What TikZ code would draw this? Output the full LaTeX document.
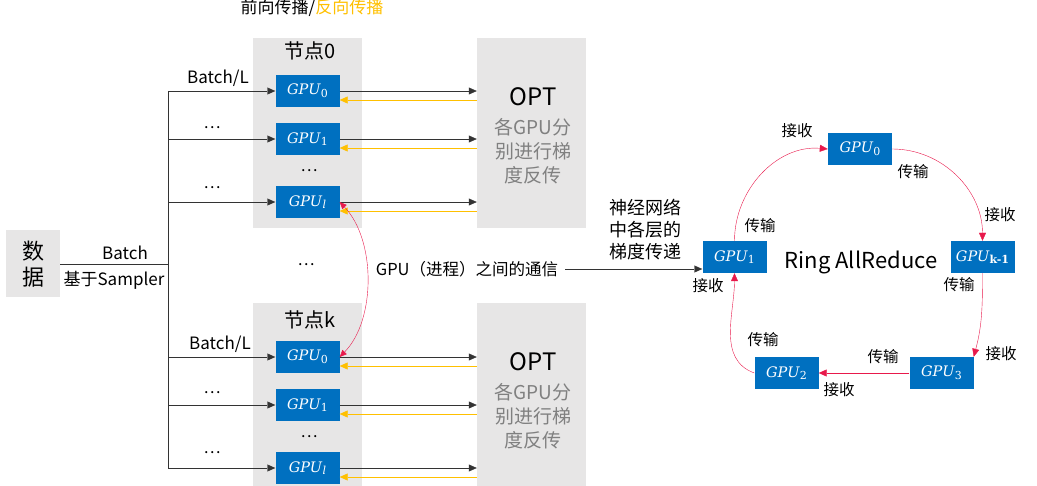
\documentclass[tikz,border=0pt]{standalone}
\usepackage{fontspec}
\newfontfamily\cjk{Noto Sans CJK SC}
\newfontfamily\gpufont{DejaVu Serif}
\usetikzlibrary{arrows.meta}
\definecolor{gpublue}{HTML}{0070C0}
\definecolor{boxgray}{HTML}{E7E6E6}
\definecolor{backyellow}{HTML}{FFC000}
\definecolor{ringred}{HTML}{E8194B}
\definecolor{optgray}{HTML}{808080}
\newcommand\gpuname[1]{\textit{GPU}\raisebox{-0.35ex}{\fontsize{11}{12}\selectfont #1}}
\tikzset{
  gpu/.style={fill=gpublue, text=white, minimum width=64pt, minimum height=32pt,
    inner sep=0pt, font=\gpufont\fontsize{14.5}{16}\selectfont},
  graybox/.style={fill=boxgray, inner sep=0pt},
  txt/.style={font=\cjk\fontsize{17}{19}\selectfont, inner sep=1pt},
  small/.style={font=\cjk\fontsize{15.5}{17}\selectfont, inner sep=1pt},
  dots/.style={font=\cjk\fontsize{16}{18}\selectfont, inner sep=1pt},
  fwd/.style={draw=black!80, -{Triangle[length=8pt,width=7pt]}},
  bwd/.style={draw=backyellow, -{Triangle[length=8pt,width=7pt]}},
  ring/.style={draw=ringred, -{Triangle[length=8pt,width=7pt]}},
}
\begin{document}
\begin{tikzpicture}[x=1pt, y=-1pt]
  \useasboundingbox (0,0) rectangle (1037,486);

  % Data and nodes
  \node[graybox, minimum width=54, minimum height=67, align=center,
    font=\cjk\fontsize{22}{26}\selectfont] (data) at (33,264) {数\\据};
  \node[graybox, minimum width=109, minimum height=190] (node0) at (307.5,133) {};
  \node[graybox, minimum width=109, minimum height=184] (nodek) at (307.5,395) {};
  \node[graybox, minimum width=109, minimum height=190] (opt0) at (531.5,133) {};
  \node[graybox, minimum width=109, minimum height=184] (optk) at (531.5,395) {};

  \node[txt] at (312,8) {前向传播/\textcolor{backyellow}{反向传播}};
  \node[txt, font=\cjk\fontsize{20}{22}\selectfont] at (310,51) {节点0};
  \node[txt, font=\cjk\fontsize{20}{22}\selectfont] at (310,320) {节点k};

  \node[font=\cjk\fontsize{24}{26}\selectfont] at (533,97) {OPT};
  \node[font=\cjk\fontsize{19}{24}\selectfont, text=optgray, align=center] at (533,151) {各GPU分\\别进行梯\\度反传};
  \node[font=\cjk\fontsize{24}{26}\selectfont] at (533,362) {OPT};
  \node[font=\cjk\fontsize{19}{24}\selectfont, text=optgray, align=center] at (533,416) {各GPU分\\别进行梯\\度反传};

  % GPUs in the nodes
  \node[gpu] (g00) at (307.5,91)  {\gpuname{0}};
  \node[gpu] (g01) at (307.5,139) {\gpuname{1}};
  \node[gpu] (g0l) at (307.5,202) {\gpuname{\textit{l}}};
  \node[gpu] (gk0) at (307.5,357) {\gpuname{0}};
  \node[gpu] (gk1) at (307.5,405) {\gpuname{1}};
  \node[gpu] (gkl) at (307.5,468) {\gpuname{\textit{l}}};
  \node[dots] at (309,171) {…};
  \node[dots] at (309,437) {…};
  \node[dots] at (306,265) {…};

  % Batch split
  \coordinate (bus) at (168,264);
  \draw[black!80] (data.east) -- (bus);
  \draw[black!80] (bus |- g00.west) -- (bus |- gkl.west);
  \node[txt] at (125,253) {Batch};
  \node[txt] at (114,280) {基于Sampler};
  \foreach \g in {g00,g01,g0l,gk0,gk1,gkl}{
    \draw[fwd] (bus |- \g.west) -- (\g.west);
  }
  \node[txt] at (218,78) {Batch/L};
  \node[txt] at (220,344) {Batch/L};
  \foreach \y in {128,188,393,453}{
    \node[dots] at (212,\y) {…};
  }

  % Forward / backward to OPT
  \foreach \g/\o in {g00/opt0,g01/opt0,g0l/opt0,gk0/optk,gk1/optk,gkl/optk}{
    \draw[fwd] (\g.east) -- (\g.east -| \o.west);
    \draw[bwd] ([yshift=-9pt]\g.east -| \o.west) -- ([yshift=-9pt]\g.east);
  }

  % Communication
  \draw[draw=ringred, {Triangle[length=7pt,width=6pt]}-{Triangle[length=7pt,width=6pt]}]
    (g0l.east) .. controls (376,240) and (376,320) .. (gk0.east);
  \node[txt, font=\cjk\fontsize{16.5}{18}\selectfont] (comm) at (467,269) {GPU（进程）之间的通信};
  \node[txt, align=center, font=\cjk\fontsize{18}{22}\selectfont] at (645,230) {神经网络\\中各层的\\梯度传递};

  % Ring AllReduce
  \node[gpu] (r0) at (860,149)   {\gpuname{0}};
  \node[gpu] (rk) at (982.5,257) {\gpuname{\textbf{k-1}}};
  \node[gpu] (r1) at (734.5,257) {\gpuname{1}};
  \node[gpu] (r2) at (786.5,373) {\gpuname{2}};
  \node[gpu] (r3) at (941.5,373) {\gpuname{3}};
  \node[font=\cjk\fontsize{22}{24}\selectfont] at (861,262) {Ring AllReduce};

  \draw[fwd, shorten <=6pt] (comm.east) -- ([yshift=-12pt]r1.west);

  \draw[ring] (r1.north) to[out=90, in=175] (r0.west);
  \draw[ring] (r0.east) to[out=0, in=90] (rk.north);
  \draw[ring] (rk.south) to[out=-90, in=75] (r3.north east);
  \draw[ring] (r3.west) -- (r2.east);
  \draw[ring] (r2.west) to[out=160, in=-90] (r1.south);

  \node[small] at (797,131) {接收};
  \node[small] at (760,226) {传输};
  \node[small] at (913,172) {传输};
  \node[small] at (1000,215) {接收};
  \node[small] at (959,285) {传输};
  \node[small] at (1001,354) {接收};
  \node[small] at (883,357) {传输};
  \node[small] at (839,390) {接收};
  \node[small] at (763,340) {传输};
  \node[small] at (708,286) {接收};
\end{tikzpicture}
\end{document}
